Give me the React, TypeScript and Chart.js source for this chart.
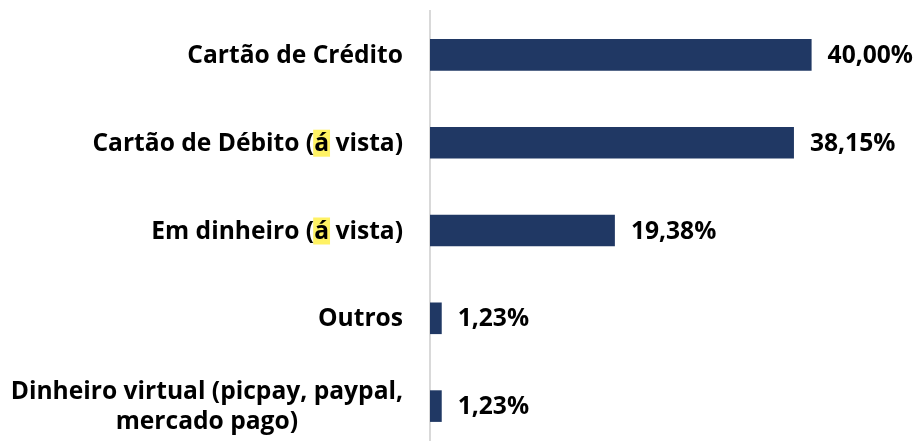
import React, { useEffect, useRef } from "react";
import { Chart, registerables } from "chart.js";

Chart.register(...registerables);

const categories: string[][] = [
  ["Cartão de Crédito"],
  ["Cartão de Débito (á vista)"],
  ["Em dinheiro (á vista)"],
  ["Outros"],
  ["Dinheiro virtual (picpay, paypal,", "mercado pago)"],
];
const values = [40.0, 38.15, 19.38, 1.23, 1.23];
const valueLabels = ["40,00%", "38,15%", "19,38%", "1,23%", "1,23%"];
const highlightText = "á";

const FONT = 'bold 24.6px "Open Sans"';
const BAR_COLOR = "#203864";
const HIGHLIGHT = "#FFF264";

const labelPlugin = {
  id: "customLabels",
  afterDraw(chart: any) {
    const ctx: CanvasRenderingContext2D = chart.ctx;
    const yScale = chart.scales.y;
    const area = chart.chartArea;
    const meta = chart.getDatasetMeta(0);
    ctx.save();
    ctx.font = FONT;
    ctx.textBaseline = "middle";
    const right = area.left - 27;
    const lineH = 30;
    categories.forEach((lines, i) => {
      const y = yScale.getPixelForValue(i);
      const n = lines.length;
      const maxW = Math.max(...lines.map((l) => ctx.measureText(l).width));
      lines.forEach((line, j) => {
        const ly = y + (j - (n - 1) / 2) * lineH;
        const w = ctx.measureText(line).width;
        const start = n === 1 ? right - w : right - maxW / 2 - w / 2;
        const idx = line.indexOf(highlightText);
        if (idx >= 0 && i !== 4) {
          const hx = start + ctx.measureText(line.slice(0, idx)).width;
          const hw = ctx.measureText(highlightText).width;
          ctx.fillStyle = HIGHLIGHT;
          ctx.fillRect(hx - 1, ly - 13, hw + 2, 27);
        }
        ctx.fillStyle = "#000000";
        ctx.textAlign = "left";
        ctx.fillText(line, start, ly + 1);
      });
    });
    meta.data.forEach((bar: any, i: number) => {
      ctx.fillStyle = "#000000";
      ctx.textAlign = "left";
      ctx.fillText(valueLabels[i], bar.x + 16, bar.y + 1);
    });
    ctx.restore();
  },
};

export default function App() {
  const ref = useRef<HTMLCanvasElement | null>(null);
  useEffect(() => {
    if (!ref.current) return;
    const chart = new Chart(ref.current, {
      type: "bar",
      data: {
        labels: categories.map((c) => c.join(" ")),
        datasets: [
          {
            data: values,
            backgroundColor: BAR_COLOR,
            borderWidth: 0,
            barPercentage: 0.36,
            categoryPercentage: 1,
          },
        ],
      },
      options: {
        indexAxis: "y",
        responsive: false,
        animation: false,
        layout: { padding: { top: 11, bottom: 1, right: 15, left: 0 } },
        plugins: {
          legend: { display: false },
          tooltip: { enabled: false },
        },
        scales: {
          x: { display: false, min: 0, max: 50 },
          y: {
            display: true,
            ticks: { display: false },
            grid: { display: false },
            border: { display: true, color: "#D9D9D9", width: 2 },
            afterFit: (scale: any) => {
              scale.width = 430;
            },
          },
        },
      },
      plugins: [labelPlugin],
    });
    return () => chart.destroy();
  }, []);
  return (
    <div
      style={{
        position: "fixed",
        top: 0,
        left: 0,
        width: 922,
        height: 441,
        overflow: "hidden",
        background: "#ffffff",
      }}
    >
      <canvas ref={ref} width={922} height={451} style={{ display: "block" }} />
    </div>
  );
}
